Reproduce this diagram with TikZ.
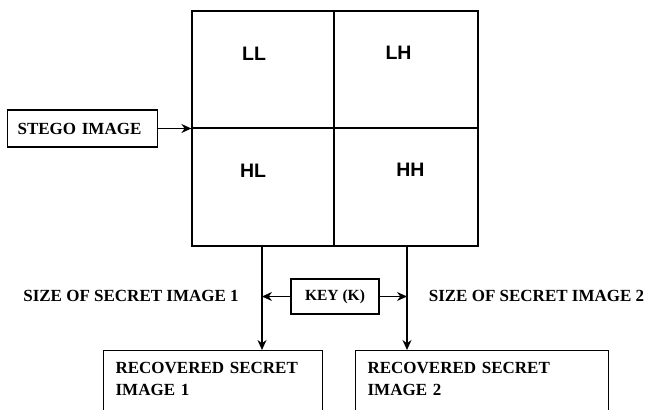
\documentclass[tikz,border=0pt]{standalone}
\usepackage{fontspec}
\setmainfont{Liberation Serif}
\newfontfamily\bandfont{Liberation Sans}
\usetikzlibrary{arrows.meta,positioning}

\begin{document}
\begin{tikzpicture}[line width=1.2pt,
  arr/.style={-{Stealth[length=10pt,width=9pt]}},
  box/.style={draw, rectangle, inner sep=0pt, font=\bfseries\fontsize{17}{22}\selectfont},
  cell/.style={draw, rectangle, inner sep=0pt},
  band/.style={font=\bfseries\bandfont\fontsize{19.5}{20}\selectfont}]

    \begin{scope}[x=1pt,y=-1pt]
    \useasboundingbox (0,0) rectangle (649,410);
    \clip (0,0) rectangle (649,410);

    % the four sub-bands
    \node[cell, minimum width=142pt, minimum height=117pt] (ll) at (263,69.5) {};
    \node[cell, minimum width=144pt, minimum height=117pt] (lh) at (406,69.5) {};
    \node[cell, minimum width=142pt, minimum height=118pt] (hl) at (263,187) {};
    \node[cell, minimum width=144pt, minimum height=118pt] (hh) at (406,187) {};

    \node[band] (lltxt) at (254,53.5) {LL};
    \node[band] (lhtxt) at (398.5,53) {LH};
    \node[band] (hltxt) at (253,170.5) {HL};
    \node[band] (hhtxt) at (410.5,169.5) {HH};

    % input
    \node[box, anchor=west, text width=130pt, inner xsep=10pt, minimum height=37pt] (stego) at (7,128.5) {STEGO IMAGE};

    % key and sizes
    \node[box, minimum width=88pt, minimum height=35pt, font=\bfseries\fontsize{15.5}{16}\selectfont] (key) at (335,296.5) {KEY (K)};
    \node[font=\bfseries\fontsize{17}{20}\selectfont] (size1) at (131,296) {SIZE OF SECRET IMAGE 1};
    \node[font=\bfseries\fontsize{17}{20}\selectfont] (size2) at (536.5,296) {SIZE OF SECRET IMAGE 2};

    % outputs
    \node[box, anchor=north west, text width=195pt, align=left, inner xsep=12pt, inner ysep=12pt, text depth=25pt] (rec1) at (103,350) {RECOVERED SECRET\\IMAGE 1};
    \node[box, anchor=north west, text width=229pt, align=left, inner xsep=12pt, inner ysep=12pt, text depth=25pt] (rec2) at (355,350) {RECOVERED SECRET\\IMAGE 2};

    \coordinate (d1) at (262,246);
    \coordinate (d2) at (407,246);
    \end{scope}

    \draw[arr] (stego.east) -- (stego.east -| ll.west);
    \draw[arr] (d1) -- (d1 |- rec1.north);
    \draw[arr] (d2) -- (d2 |- rec2.north);
    \draw[arr] (key.west) -- (key.west -| d1);
    \draw[arr] (key.east) -- (key.east -| d2);
\end{tikzpicture}
\end{document}
